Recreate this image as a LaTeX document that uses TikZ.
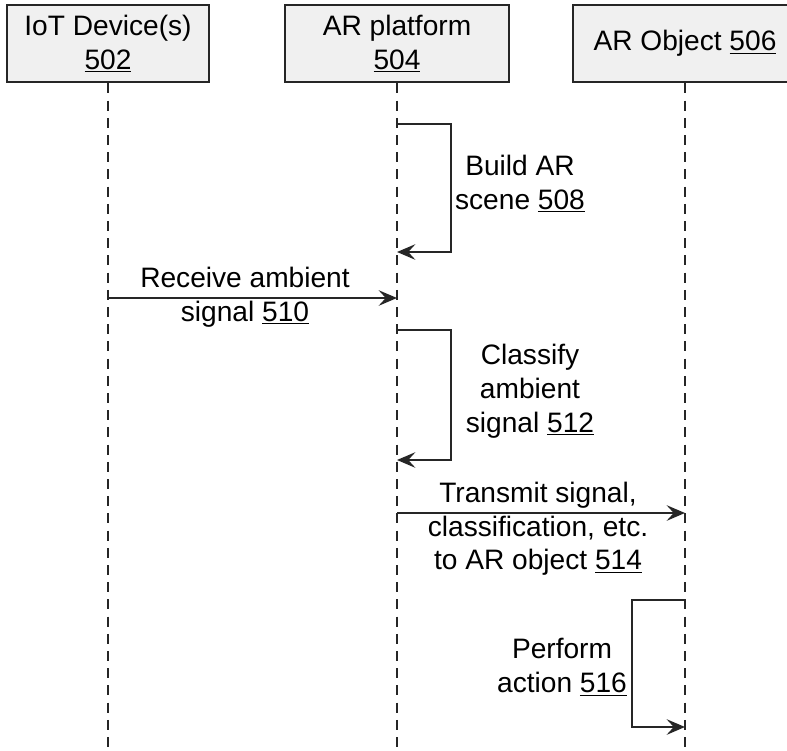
\documentclass[tikz,border=0pt]{standalone}
\usepackage{fontspec}
\setmainfont{Liberation Sans}
\usetikzlibrary{arrows.meta}

\begin{document}
\begin{tikzpicture}[
        every node/.style={font=\fontsize{20}{24}\selectfont},
        actor/.style={rectangle, draw=black!85, line width=1.9pt, fill=gray!12,
            minimum height=1.925cm, align=center},
        lifeline/.style={draw=black!85, line width=1.9pt,
            dash pattern=on 0.25cm off 0.18cm},
        msg/.style={-{Stealth[length=13pt,width=11pt,inset=5pt]},
            line width=1.9pt, draw=black!85},
        note/.style={align=center, inner sep=0pt}
      ]
      \useasboundingbox (0,0) rectangle (19.675,-18.75);

      % participants
      \node[actor, minimum width=5.05cm] (iot)  at (2.7,-1.09)    {IoT Device(s)\\\underline{502}};
      \node[actor, minimum width=5.6cm]  (plat) at (9.925,-1.09)  {AR platform\\\underline{504}};
      \node[actor, minimum width=5.6cm]  (obj)  at (17.125,-1.09) {AR Object \underline{506}};

      \coordinate (bottom) at (0,-18.75);
      \draw[lifeline] (iot.south)  -- (iot.south |- bottom);
      \draw[lifeline] (plat.south) -- (plat.south |- bottom);
      \draw[lifeline] (obj.south)  -- (obj.south |- bottom);

      % rows of the messages
      \coordinate (r508a) at (0,-3.1);
      \coordinate (r508b) at (0,-6.3);
      \coordinate (r510)  at (0,-7.45);
      \coordinate (r512a) at (0,-8.25);
      \coordinate (r512b) at (0,-11.5);
      \coordinate (r514)  at (0,-12.825);
      \coordinate (r516a) at (0,-15.0);
      \coordinate (r516b) at (0,-18.175);

      \draw[msg] (plat |- r508a) -- ++(1.35,0) |- (plat |- r508b);
      \node[note] (n508) at (13.0,-4.6) {Build AR\\scene \underline{508}};

      \draw[msg] (iot |- r510) -- (plat |- r510);
      \node[note] (n510) at (6.125,-7.43) {Receive ambient\\signal \underline{510}};

      \draw[msg] (plat |- r512a) -- ++(1.35,0) |- (plat |- r512b);
      \node[note] (n512) at (13.25,-9.78) {Classify\\ambient\\signal \underline{512}};

      \draw[msg] (plat |- r514) -- (obj |- r514);
      \node[note] (n514) at (13.45,-13.22) {Transmit signal,\\classification, etc.\\to AR object \underline{514}};

      \draw[msg] (obj |- r516a) -- ++(-1.325,0) |- (obj |- r516b);
      \node[note] (n516) at (14.05,-16.68) {Perform\\action \underline{516}};
    \end{tikzpicture}
\end{document}
